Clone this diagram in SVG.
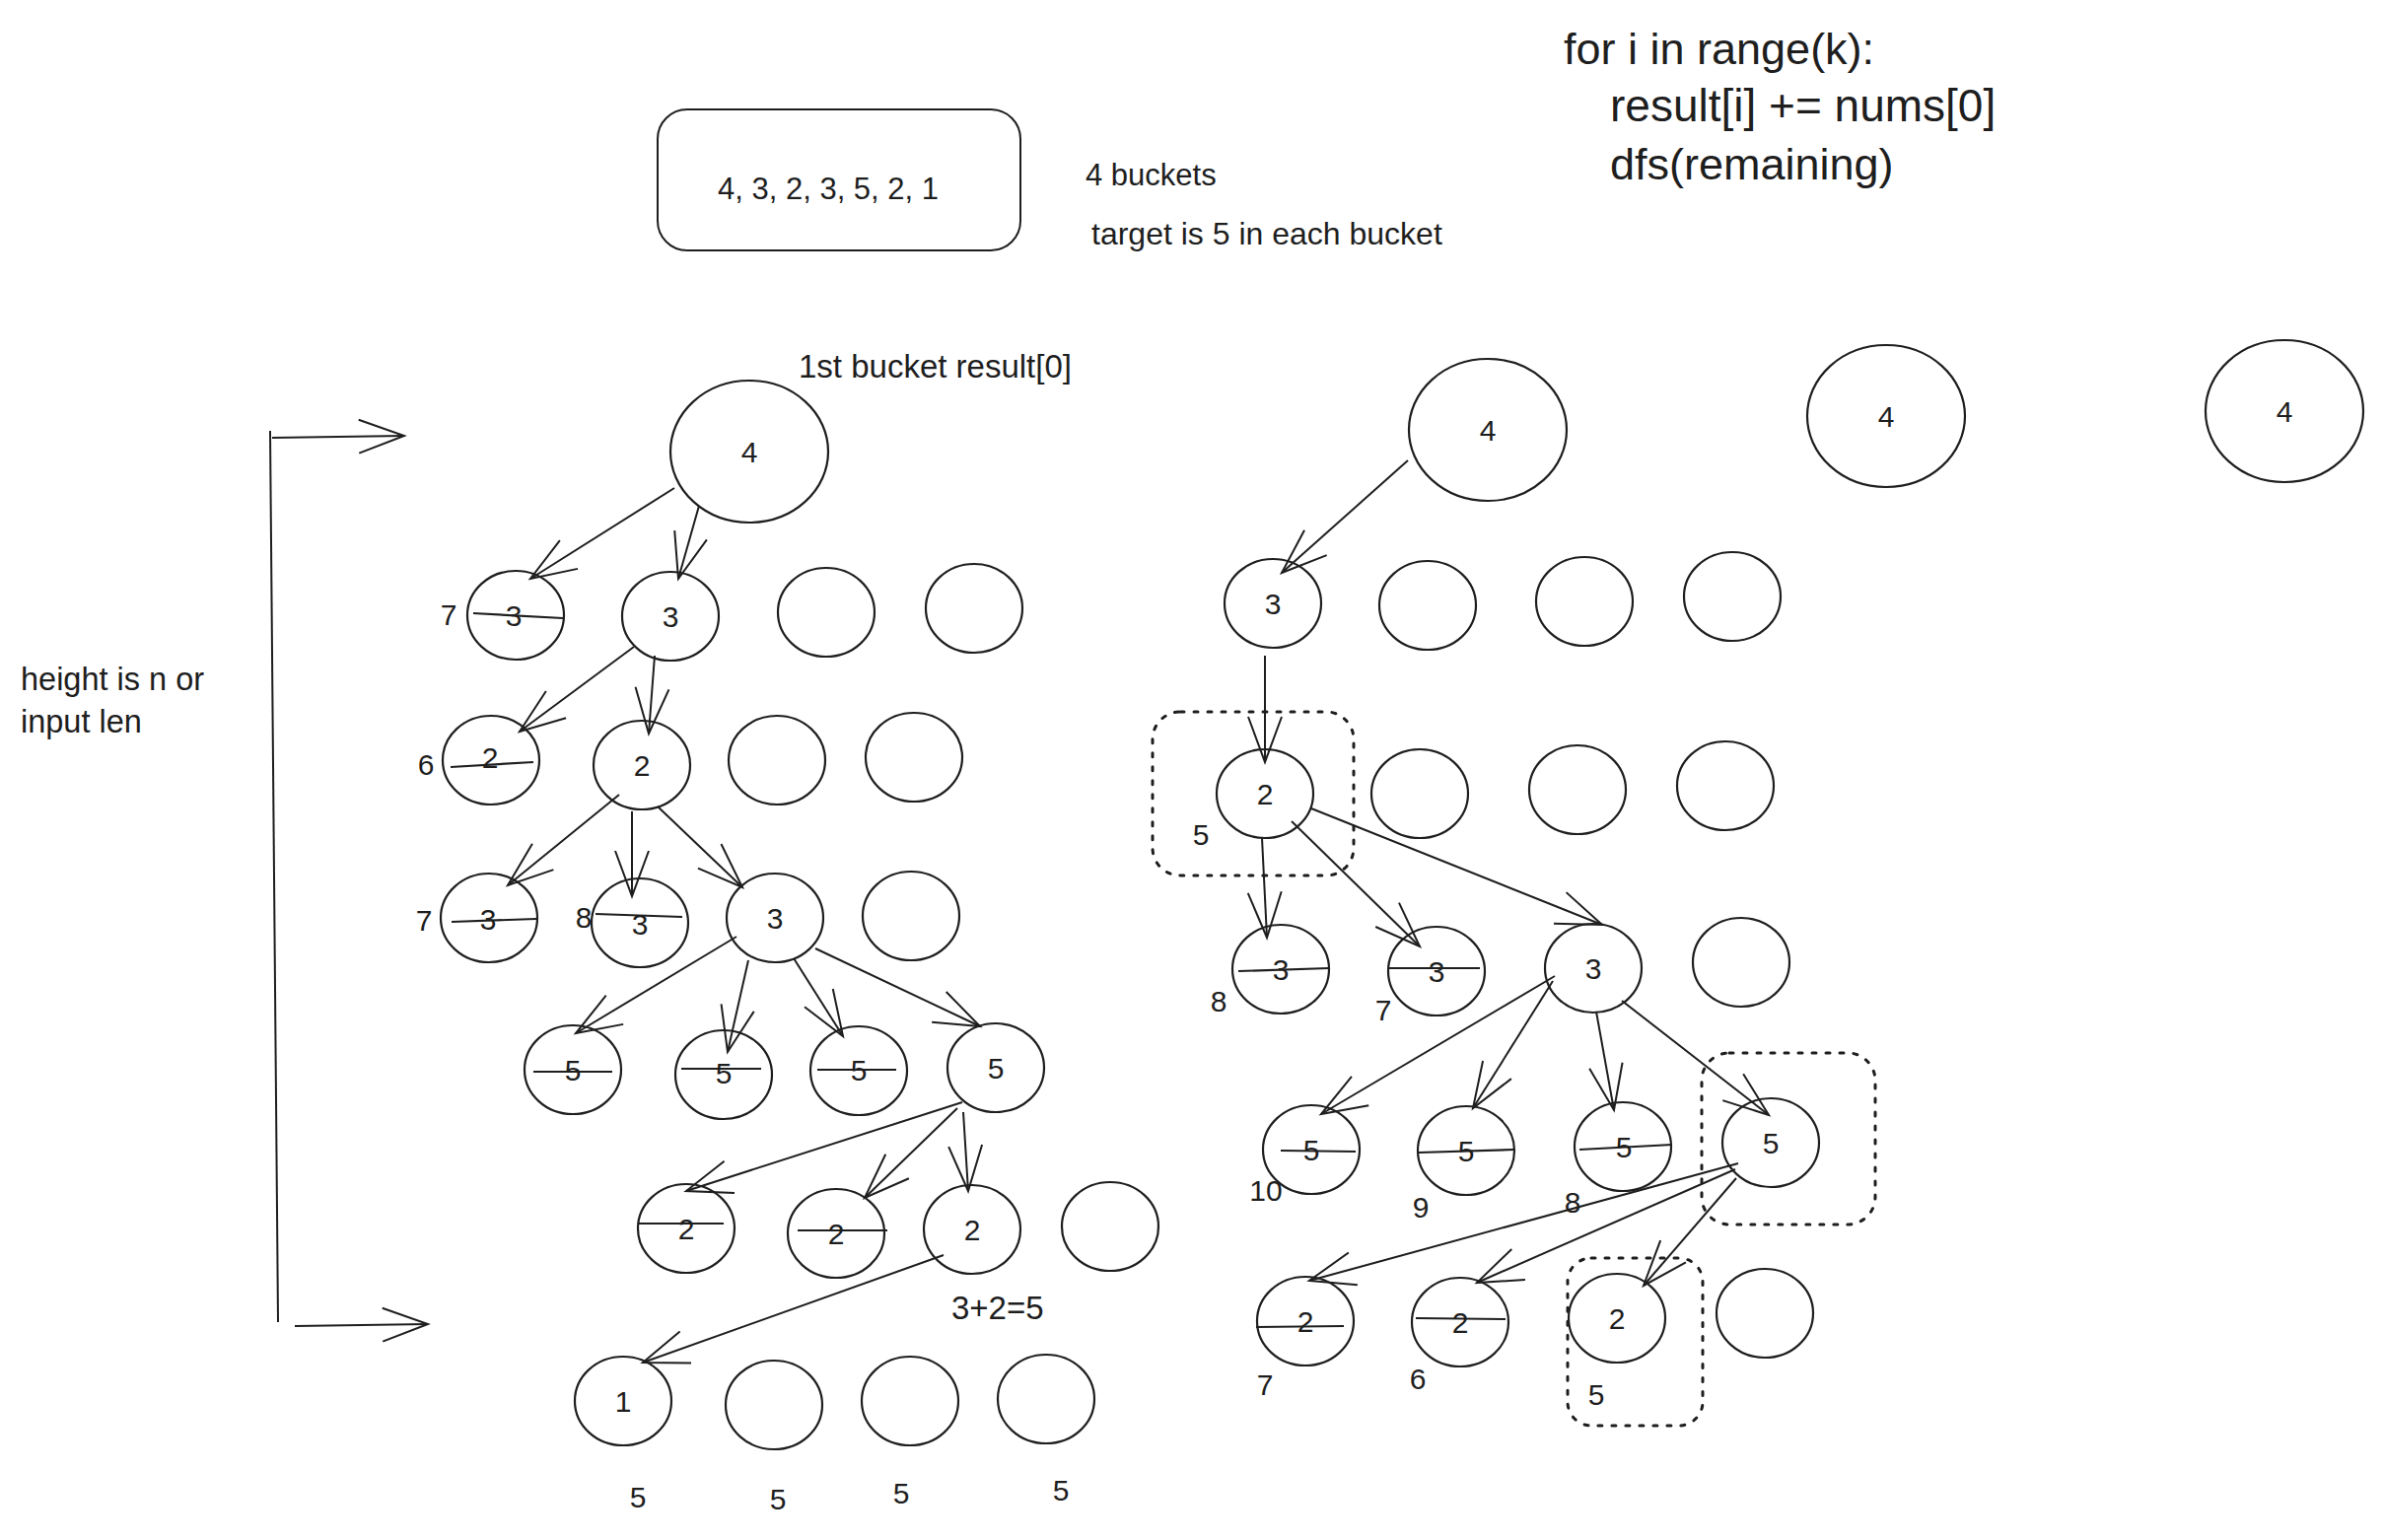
<svg xmlns="http://www.w3.org/2000/svg" width="2417" height="1562" viewBox="0 0 2417 1562">
<defs>
<style>
text{font-family:"Liberation Sans",Arial,sans-serif;fill:#1e1e1e}
.n ellipse{fill:none;stroke:#1e1e1e;stroke-width:2.2}
.n text{font-size:30px;text-anchor:middle}
.n .s{stroke:#1e1e1e;stroke-width:2.2}
.lb{font-size:30px;text-anchor:middle}
.big{font-size:45px}
.mid{font-size:31px}
.e line{stroke:#1e1e1e;stroke-width:2;marker-end:url(#ah)}
.dot{fill:none;stroke:#1e1e1e;stroke-width:3;stroke-dasharray:4 10;stroke-linecap:round}
</style>
<marker id="ah" markerUnits="userSpaceOnUse" markerWidth="60" markerHeight="40" viewBox="-50 -20 60 40" refX="0" refY="0" orient="auto" overflow="visible">
<path d="M-46,-17 L0,0 L-46,17" fill="none" stroke="#1e1e1e" stroke-width="2"/>
</marker>
</defs>
<rect width="2417" height="1562" fill="#ffffff"/>

<!-- code text -->
<g id="code">
<text class="big" x="1586" y="65">for i in range(k):</text>
<text class="big" x="1633" y="123" style="font-size:46px">result[i] += nums[0]</text>
<text class="big" x="1633" y="182">dfs(remaining)</text>
</g>

<g id="input">
<rect x="667" y="111" width="368" height="143" rx="30" fill="none" stroke="#1e1e1e" stroke-width="2"/>
<text class="mid" x="728" y="202">4, 3, 2, 3, 5, 2, 1</text>
</g>
<text class="mid" x="1101" y="188">4 buckets</text>
<text class="mid" x="1107" y="248" style="font-size:32px">target is 5 in each bucket</text>
<text class="mid" x="810" y="383" style="font-size:33px">1st bucket result[0]</text>
<text class="mid" x="21" y="700" style="font-size:32.5px">height is n or</text>
<text class="mid" x="21" y="743" style="font-size:32.5px">input len</text>
<text class="mid" x="965" y="1338" style="font-size:33px">3+2=5</text>

<!-- dotted highlight boxes -->
<rect class="dot" x="1169" y="722" width="204" height="166" rx="28"/>
<rect class="dot" x="1726" y="1068" width="176" height="174" rx="28"/>
<rect class="dot" x="1590" y="1276" width="137" height="170" rx="24"/>

<!-- connectors -->
<g id="connectors" class="e">
<line x1="274" y1="437" x2="282" y2="1341" style="marker-end:none"/>
<line x1="276" y1="444" x2="410" y2="442"/>
<line x1="299" y1="1345" x2="434" y2="1343"/>
<line x1="684" y1="495" x2="538" y2="587"/>
<line x1="709" y1="513" x2="688" y2="587"/>
<line x1="643" y1="656" x2="527" y2="742"/>
<line x1="664" y1="665" x2="658" y2="744"/>
<line x1="628" y1="806" x2="515" y2="898"/>
<line x1="641" y1="823" x2="641" y2="909"/>
<line x1="667" y1="818" x2="753" y2="900"/>
<line x1="747" y1="950" x2="584" y2="1048"/>
<line x1="759" y1="974" x2="738" y2="1067"/>
<line x1="805" y1="972" x2="855" y2="1051"/>
<line x1="827" y1="962" x2="994" y2="1041"/>
<line x1="976" y1="1118" x2="696" y2="1208"/>
<line x1="971" y1="1124" x2="877" y2="1215"/>
<line x1="977" y1="1128" x2="982" y2="1208"/>
<line x1="957" y1="1273" x2="652" y2="1382"/>
<line x1="1428" y1="467" x2="1300" y2="581"/>
<line x1="1283" y1="665" x2="1283" y2="773"/>
<line x1="1280" y1="850" x2="1285" y2="951"/>
<line x1="1310" y1="833" x2="1440" y2="960"/>
<line x1="1330" y1="820" x2="1625" y2="938"/>
<line x1="1577" y1="990" x2="1340" y2="1130"/>
<line x1="1575" y1="995" x2="1494" y2="1124"/>
<line x1="1619" y1="1026" x2="1637" y2="1126"/>
<line x1="1645" y1="1015" x2="1794" y2="1131"/>
<line x1="1763" y1="1180" x2="1328" y2="1299"/>
<line x1="1760" y1="1186" x2="1498" y2="1301"/>
<line x1="1761" y1="1195" x2="1667" y2="1304"/>
</g>

<!-- left tree -->
<g id="L0" class="n"><ellipse cx="760" cy="458" rx="80" ry="72"/><text x="760" y="469">4</text></g>
<g id="L1a" class="n"><ellipse cx="523" cy="624" rx="49" ry="45"/><text x="521" y="635">3</text><line class="s" x1="480" y1="622" x2="571" y2="627"/></g>
<g id="L1b" class="n"><ellipse cx="680" cy="625" rx="49" ry="45"/><text x="680" y="636">3</text></g>
<g id="L1c" class="n"><ellipse cx="838" cy="621" rx="49" ry="45"/></g>
<g id="L1d" class="n"><ellipse cx="988" cy="617" rx="49" ry="45"/></g>
<g id="L2a" class="n"><ellipse cx="498" cy="771" rx="49" ry="45"/><text x="497" y="779">2</text><line class="s" x1="457" y1="778" x2="541" y2="773"/></g>
<g id="L2b" class="n"><ellipse cx="651" cy="776" rx="49" ry="45"/><text x="651" y="787">2</text></g>
<g id="L2c" class="n"><ellipse cx="788" cy="771" rx="49" ry="45"/></g>
<g id="L2d" class="n"><ellipse cx="927" cy="768" rx="49" ry="45"/></g>
<g id="L3a" class="n"><ellipse cx="496" cy="931" rx="49" ry="45"/><text x="495" y="943">3</text><line class="s" x1="458" y1="935" x2="544" y2="932"/></g>
<g id="L3b" class="n"><ellipse cx="649" cy="936" rx="49" ry="45"/><text x="649" y="948">3</text><line class="s" x1="604" y1="927" x2="692" y2="930"/></g>
<g id="L3c" class="n"><ellipse cx="786" cy="931" rx="49" ry="45"/><text x="786" y="942">3</text></g>
<g id="L3d" class="n"><ellipse cx="924" cy="929" rx="49" ry="45"/></g>
<g id="L4a" class="n"><ellipse cx="581" cy="1085" rx="49" ry="45"/><text x="581" y="1096">5</text><line class="s" x1="541" y1="1087" x2="621" y2="1087"/></g>
<g id="L4b" class="n"><ellipse cx="734" cy="1090" rx="49" ry="45"/><text x="734" y="1099">5</text><line class="s" x1="691" y1="1084" x2="772" y2="1084"/></g>
<g id="L4c" class="n"><ellipse cx="871" cy="1086" rx="49" ry="45"/><text x="871" y="1096">5</text><line class="s" x1="829" y1="1085" x2="909" y2="1085"/></g>
<g id="L4d" class="n"><ellipse cx="1010" cy="1083" rx="49" ry="45"/><text x="1010" y="1094">5</text></g>
<g id="L5a" class="n"><ellipse cx="696" cy="1246" rx="49" ry="45"/><text x="696" y="1257">2</text><line class="s" x1="647" y1="1241" x2="734" y2="1241"/></g>
<g id="L5b" class="n"><ellipse cx="848" cy="1251" rx="49" ry="45"/><text x="848" y="1262">2</text><line class="s" x1="809" y1="1248" x2="900" y2="1248"/></g>
<g id="L5c" class="n"><ellipse cx="986" cy="1247" rx="49" ry="45"/><text x="986" y="1258">2</text></g>
<g id="L5d" class="n"><ellipse cx="1126" cy="1244" rx="49" ry="45"/></g>
<g id="L6a" class="n"><ellipse cx="632" cy="1421" rx="49" ry="45"/><text x="632" y="1432">1</text></g>
<g id="L6b" class="n"><ellipse cx="785" cy="1425" rx="49" ry="45"/></g>
<g id="L6c" class="n"><ellipse cx="923" cy="1421" rx="49" ry="45"/></g>
<g id="L6d" class="n"><ellipse cx="1061" cy="1419" rx="49" ry="45"/></g>

<!-- right tree -->
<g id="R0" class="n"><ellipse cx="1509" cy="436" rx="80" ry="72"/><text x="1509" y="447">4</text></g>
<g id="R0b" class="n"><ellipse cx="1913" cy="422" rx="80" ry="72"/><text x="1913" y="433">4</text></g>
<g id="R0c" class="n"><ellipse cx="2317" cy="417" rx="80" ry="72"/><text x="2317" y="428">4</text></g>
<g id="R1a" class="n"><ellipse cx="1291" cy="612" rx="49" ry="45"/><text x="1291" y="623">3</text></g>
<g id="R1b" class="n"><ellipse cx="1448" cy="614" rx="49" ry="45"/></g>
<g id="R1c" class="n"><ellipse cx="1607" cy="610" rx="49" ry="45"/></g>
<g id="R1d" class="n"><ellipse cx="1757" cy="605" rx="49" ry="45"/></g>
<g id="R2a" class="n"><ellipse cx="1283" cy="805" rx="49" ry="45"/><text x="1283" y="816">2</text></g>
<g id="R2b" class="n"><ellipse cx="1440" cy="805" rx="49" ry="45"/></g>
<g id="R2c" class="n"><ellipse cx="1600" cy="801" rx="49" ry="45"/></g>
<g id="R2d" class="n"><ellipse cx="1750" cy="797" rx="49" ry="45"/></g>
<g id="R3a" class="n"><ellipse cx="1299" cy="983" rx="49" ry="45"/><text x="1299" y="994">3</text><line class="s" x1="1256" y1="985" x2="1348" y2="982"/></g>
<g id="R3b" class="n"><ellipse cx="1457" cy="985" rx="49" ry="45"/><text x="1457" y="996">3</text><line class="s" x1="1409" y1="982" x2="1501" y2="982"/></g>
<g id="R3c" class="n"><ellipse cx="1616" cy="982" rx="49" ry="45"/><text x="1616" y="993">3</text></g>
<g id="R3d" class="n"><ellipse cx="1766" cy="976" rx="49" ry="45"/></g>
<g id="R4a" class="n"><ellipse cx="1330" cy="1166" rx="49" ry="45"/><text x="1330" y="1177">5</text><line class="s" x1="1299" y1="1167" x2="1375" y2="1168"/></g>
<g id="R4b" class="n"><ellipse cx="1487" cy="1167" rx="49" ry="45"/><text x="1487" y="1178">5</text><line class="s" x1="1439" y1="1169" x2="1536" y2="1166"/></g>
<g id="R4c" class="n"><ellipse cx="1646" cy="1163" rx="49" ry="45"/><text x="1647" y="1174">5</text><line class="s" x1="1602" y1="1166" x2="1696" y2="1161"/></g>
<g id="R4d" class="n"><ellipse cx="1796" cy="1159" rx="49" ry="45"/><text x="1796" y="1170">5</text></g>
<g id="R5a" class="n"><ellipse cx="1324" cy="1340" rx="49" ry="45"/><text x="1324" y="1351">2</text><line class="s" x1="1274" y1="1346" x2="1363" y2="1345"/></g>
<g id="R5b" class="n"><ellipse cx="1481" cy="1341" rx="49" ry="45"/><text x="1481" y="1352">2</text><line class="s" x1="1436" y1="1337" x2="1527" y2="1338"/></g>
<g id="R5c" class="n"><ellipse cx="1640" cy="1337" rx="49" ry="45"/><text x="1640" y="1348">2</text></g>
<g id="R5d" class="n"><ellipse cx="1790" cy="1332" rx="49" ry="45"/></g>

<!-- side labels -->
<g id="labels">
<text class="lb" x="455" y="634">7</text>
<text class="lb" x="432" y="786">6</text>
<text class="lb" x="430" y="944">7</text>
<text class="lb" x="592" y="941">8</text>
<text class="lb" x="647" y="1529">5</text>
<text class="lb" x="789" y="1531">5</text>
<text class="lb" x="914" y="1525">5</text>
<text class="lb" x="1076" y="1522">5</text>
<text class="lb" x="1218" y="857">5</text>
<text class="lb" x="1236" y="1026">8</text>
<text class="lb" x="1403" y="1035">7</text>
<text class="lb" x="1284" y="1218">10</text>
<text class="lb" x="1441" y="1235">9</text>
<text class="lb" x="1595" y="1230">8</text>
<text class="lb" x="1283" y="1415">7</text>
<text class="lb" x="1438" y="1409">6</text>
<text class="lb" x="1619" y="1425">5</text>
</g>
</svg>
